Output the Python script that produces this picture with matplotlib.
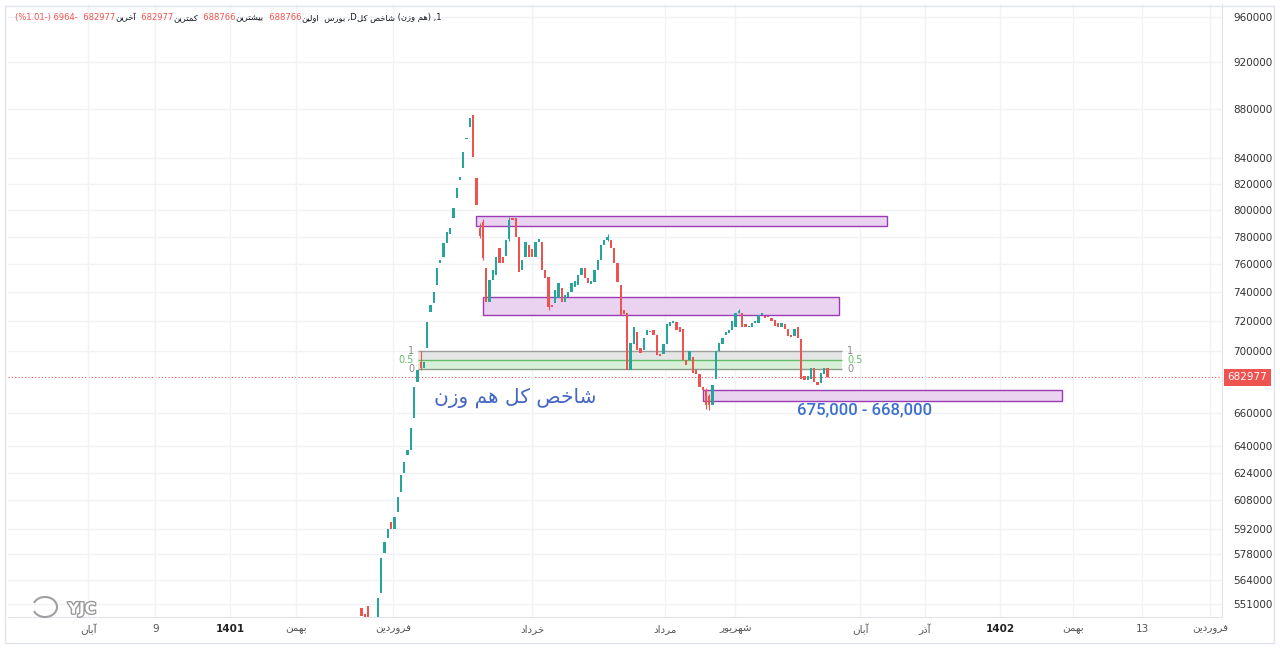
import matplotlib
matplotlib.use('Agg')
import numpy as np
import matplotlib.pyplot as plt
import matplotlib.patches as mpatches
import matplotlib.patheffects as pe
from matplotlib.offsetbox import TextArea, HPacker, AnchoredOffsetbox
from matplotlib import font_manager, ft2font

# ---- data (prices in thousands) ----
opens = [549, 546, 550, 543, 538, 532, 557, 578.4, 586.7, 595.7,
         592, 601.3, 612.8, 623.9, 634.6, 637.6, 657.2, 680, 693, 689,
         702.1, 726.4, 732.7, 745.2, 761, 765.1, 775.4, 782, 793.9, 809.1,
         823.2, 832.3, 855.5, 865.2, 875.1, 824.5, 786.4, 790.9, 757.3, 733.4,
         748.7, 752.2, 771.7, 765, 766, 778, 794, 793.9, 779.8, 755.8,
         765, 774, 771, 765, 776, 776, 755.8, 750.8, 731, 732.7,
         736, 743, 733, 737, 740, 744, 745, 752, 757, 750,
         746, 747, 756, 763, 774, 777.6, 777.6, 771.7, 761, 745,
         728, 726, 688, 705, 713, 702, 701, 711, 713.5, 714,
         711, 698, 698, 705, 717, 719, 719.5, 716, 715, 694,
         694, 696, 688, 685, 677, 675, 671, 665, 682, 700,
         705, 711, 712, 714, 716, 726, 725.5, 718, 716, 716,
         719, 719, 724.5, 724, 723.5, 722.5, 721, 719, 716, 718,
         715, 710.5, 710, 716, 708, 684, 681, 682, 689, 680,
         679, 685, 688.766]
closes = [545, 541, 543, 538, 536, 554.4, 575.7, 584.5, 592, 592,
          598.5, 609.9, 622.7, 630.3, 637.6, 651.0, 676.7, 687.7, 689, 693,
          719.5, 731.2, 740, 757.3, 763, 775.4, 783.5, 786.4, 801.4, 816.8,
          825.3, 845, 856.5, 872.6, 841, 803.7, 780.8, 764.5, 733.4, 748.7,
          755.8, 765.1, 760.9, 761, 777.6, 792.4, 792.5, 779.8, 754.4, 763,
          776.2, 765.1, 765, 776, 778, 755.8, 750, 729.9, 730, 741.7,
          746.6, 733, 738, 740, 746.6, 748, 752, 757, 750, 746.6,
          748, 756, 763, 774, 777.6, 780, 771.7, 761, 747, 724.3,
          725, 688, 705.5, 716.2, 701, 699, 709, 714, 712.5, 711,
          697.5, 697, 705, 718, 719.5, 720.5, 714, 713, 694, 691,
          700, 686, 685, 676.5, 675, 665, 665, 678, 700, 705.5,
          709, 713, 714, 720.5, 726, 727, 716, 716, 717, 719,
          720, 724.5, 725.5, 722.5, 722.8, 720.5, 717, 716, 719, 715,
          710, 709.5, 715, 708.5, 682, 681, 684, 689, 680, 678,
          686, 689, 682.977]
wicks = {18: (700, 688), 36: (790, 779), 37: (793, 763), 45: (795, 777),
         57: (751, 728), 75: (782, 777), 105: (676, 663), 106: (672, 662),
         115: (728.5, 725.5), 142: (688.766, 682.977)}

last_price = 682977
fib_high, fib_low = 700000, 688100
zones = [(788000, 795400), (724300, 736800), (668000, 675000)]

ytick_vals = [960000, 920000, 880000, 840000, 820000, 800000, 780000, 760000,
              740000, 720000, 700000, 660000, 640000, 624000, 608000, 592000,
              578000, 564000, 551000]
xtick_labels = ['آبان', '9', '1401', 'بهمن', 'فروردین', 'خرداد', 'مرداد',
                'شهریور', 'آبان', 'آذر', '1402', 'بهمن', '13', 'فروردین']
xtick_bars = [-83.4, -62.9, -40.1, -20.0, 9.6, 52.0, 92.5, 113.9, 152.0,
              171.8, 194.7, 216.9, 237.9, 258.7]

# ---- simple Persian shaping (matplotlib has no bidi/shaping) ----
FORMS = {
    'ا': ('\uFE8D', '\uFE8E', None, None), 'آ': ('\uFE81', '\uFE82', None, None),
    'ب': ('\uFE8F', '\uFE90', '\uFE91', '\uFE92'), 'ت': ('\uFE95', '\uFE96', '\uFE97', '\uFE98'),
    'خ': ('\uFEA5', '\uFEA6', '\uFEA7', '\uFEA8'), 'د': ('\uFEA9', '\uFEAA', None, None),
    'ذ': ('\uFEAB', '\uFEAC', None, None), 'ر': ('\uFEAD', '\uFEAE', None, None),
    'ز': ('\uFEAF', '\uFEB0', None, None), 'س': ('\uFEB1', '\uFEB2', '\uFEB3', '\uFEB4'),
    'ش': ('\uFEB5', '\uFEB6', '\uFEB7', '\uFEB8'), 'ص': ('\uFEB9', '\uFEBA', '\uFEBB', '\uFEBC'),
    'ف': ('\uFED1', '\uFED2', '\uFED3', '\uFED4'), 'ل': ('\uFEDD', '\uFEDE', '\uFEDF', '\uFEE0'),
    'م': ('\uFEE1', '\uFEE2', '\uFEE3', '\uFEE4'), 'ن': ('\uFEE5', '\uFEE6', '\uFEE7', '\uFEE8'),
    'ه': ('\uFEE9', '\uFEEA', '\uFEEB', '\uFEEC'), 'و': ('\uFEED', '\uFEEE', None, None),
    'ک': ('\uFB8E', '\uFB8F', '\uFB90', '\uFB91'), 'ی': ('\uFBFC', '\uFBFD', '\uFBFE', '\uFBFF'),
}
cmap = ft2font.FT2Font(font_manager.findfont('DejaVu Sans')).get_charmap()
if 0xFB8E not in cmap:
    FORMS['ک'] = ('\uFED9', '\uFEDA', '\uFEDB', '\uFEDC')
if 0xFBFC not in cmap:
    FORMS['ی'] = ('\uFEEF', '\uFEF0', '\uFEF3', '\uFEF4')


def fa(text):
    if not any(ch in FORMS for ch in text):
        return text
    out = []
    for k, ch in enumerate(text):
        if ch not in FORMS:
            out.append(ch)
            continue
        iso, fin, ini, med = FORMS[ch]
        prev = text[k - 1] if k > 0 else ''
        nxt = text[k + 1] if k + 1 < len(text) else ''
        jp = prev in FORMS and FORMS[prev][2] is not None
        jn = nxt in FORMS and ini is not None
        out.append(med if jp and jn else fin if jp else ini if jn else iso)
    return ''.join(out)[::-1]


UP, DN = '#26a69a', '#ef5350'
FA = ['DejaVu Sans']
plt.rcParams['font.family'] = ['DejaVu Sans']

fig = plt.figure(figsize=(12.8, 6.51), dpi=100)
ax = fig.add_axes([8 / 1280, 34 / 651, 1214 / 1280, 613 / 651])
ax.set_yscale('log')

o = np.array(opens) * 1000
c = np.array(closes) * 1000
x = np.arange(len(o))
lo, hi = np.minimum(o, c), np.maximum(o, c)
cols = np.where(c >= o, UP, DN)
ax.bar(x, np.maximum(hi - lo, hi * 0.0012), bottom=lo, width=0.7,
       color=cols, linewidth=0, zorder=4)
for i, (wh, wl) in wicks.items():
    ax.vlines(i, wl * 1000, wh * 1000, color=cols[i], lw=0.8, zorder=4)

# purple zones
for (zlo, zhi), (x0, x1) in zip(zones, [(34.9, 160.2), (37.0, 145.6), (104.1, 213.6)]):
    ax.add_patch(mpatches.Rectangle((x0, zlo), x1 - x0, zhi - zlo, fc='#ead2f1',
                                    ec='#9c3cb4', lw=1.0, zorder=3))

# fib retracement
fmid = (fib_high + fib_low) / 2
fx0, fx1 = 17.2, 146.5
ax.fill_between([fx0, fx1], fmid, fib_high, color='#e3e6e4', zorder=2, lw=0)
ax.fill_between([fx0, fx1], fib_low, fmid, color='#d8f0d8', zorder=2, lw=0)
for lvl, col, lab in [(fib_high, '#9e9e9e', '1'), (fmid, '#66bb6a', '0.5'), (fib_low, '#8a9a8a', '0')]:
    ax.hlines(lvl, fx0, fx1, color=col, lw=1.0, zorder=2.5)
    tcol = '#66bb6a' if lab == '0.5' else '#888888'
    ax.text(fx0 - 1.2, lvl, lab, ha='right', va='center', fontsize=7, color=tcol)
    ax.text(fx1 + 1.5, lvl, lab, ha='left', va='center', fontsize=7, color=tcol)

# last price line + label
ax.axhline(last_price, color=DN, lw=0.8, ls=(0, (1, 2)), zorder=1)
ax.annotate(str(last_price), xy=(1, last_price), xycoords=ax.get_yaxis_transform(),
            xytext=(4, 0), textcoords='offset points', ha='left', va='center',
            color='white', fontsize=7.5, annotation_clip=False,
            bbox=dict(boxstyle='square,pad=0.35', fc=DN, ec='none'))

ax.text(46.8, 670000, fa('شاخص کل هم وزن'), ha='center', va='center',
        fontsize=14.5, color='#4466c4', family=FA, zorder=5)
ax.text(153.2, 662000, '675,000 - 668,000', ha='center', va='center',
        fontsize=12, color='#3a6fd0', family=['Roboto', 'DejaVu Sans'],
        fontweight='medium', zorder=5)

ax.set_xlim(-107.8, 262.3)
ax.set_ylim(544500, 971900)
ax.yaxis.tick_right()
ax.set_yticks(ytick_vals)
ax.set_yticklabels([str(v) for v in ytick_vals])
ax.minorticks_off()
ax.tick_params(axis='y', length=0, pad=8, labelsize=7.5, labelcolor='#333333')
ax.set_xticks(xtick_bars)
ax.set_xticklabels([fa(t) for t in xtick_labels])
ax.tick_params(axis='x', length=0, pad=5, labelsize=7.5, labelcolor='#555555')
for lab in ax.get_xticklabels():
    if lab.get_text() in ('1401', '1402'):
        lab.set_fontweight('bold')
        lab.set_color('#222222')
ax.grid(True, color='#f0f2f6', lw=1.0, zorder=0)
for s in ['top', 'left']:
    ax.spines[s].set_visible(False)
for s in ['right', 'bottom']:
    ax.spines[s].set_color('#e0e3eb')

# outer frame
fig.patches.append(mpatches.Rectangle((5 / 1280, 8 / 651), 1269 / 1280, 637 / 651,
                                      transform=fig.transFigure, fill=False,
                                      ec='#e0e3eb', lw=1.0))

# header legend
red = '#ef5350'
dark = '#131722'
pieces = [('(%1.01-) 6964-', red), ('  682977', red), (fa('آخرین'), dark),
          ('  682977', red), (fa('کمترین'), dark), ('  688766', red),
          (fa('بیشترین'), dark), ('  688766', red), (fa('اولین'), dark),
          ('  ' + fa('بورس'), dark), (' ,D', dark), (fa('شاخص کل'), dark),
          (' (' + fa('هم وزن') + ')', dark), (' ,1', dark)]
areas = [TextArea(t, textprops=dict(color=col, fontsize=6, family=FA)) for t, col in pieces]
box = AnchoredOffsetbox(loc='upper left', child=HPacker(children=areas, pad=0, sep=0),
                        bbox_to_anchor=(15 / 1280, 1 - 13 / 651),
                        bbox_transform=fig.transFigure, frameon=False, pad=0, borderpad=0)
fig.add_artist(box)

# watermark
fig.text(68 / 1280, 1 - 609 / 651, 'YJC', fontsize=11, fontweight='bold', color='white',
         va='center', path_effects=[pe.withStroke(linewidth=2, foreground='#9a9a9a')])
fig.patches.append(mpatches.Arc((0.45, 0.44), 0.24, 0.2, theta1=200, theta2=520,
                                transform=fig.dpi_scale_trans, ec='#a0a0a0', lw=1.5))

fig.savefig('out.png', dpi=100, facecolor='white')
